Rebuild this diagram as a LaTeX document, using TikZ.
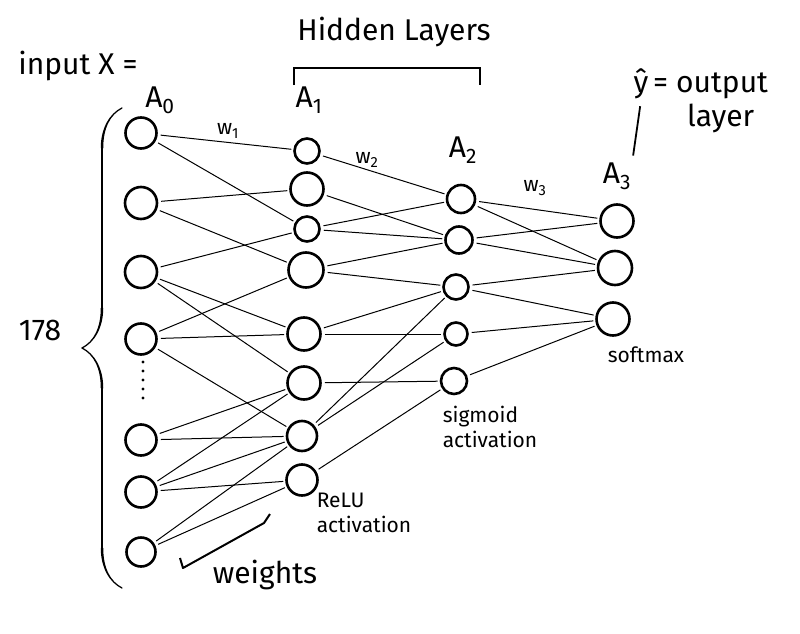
\documentclass[tikz,border=0pt]{standalone}
\usepackage{fontspec}
\setmainfont{Fira Sans}
\usetikzlibrary{decorations.pathreplacing,calligraphy}

\tikzset{
  unit/.style={circle,draw,line width=2.6pt,inner sep=0pt},
  edge/.style={line width=1pt,shorten <=3pt,shorten >=2pt},
  hand/.style={font=\fontsize{30}{32}\selectfont,inner sep=1pt},
  small/.style={font=\fontsize{21}{25}\selectfont,inner sep=1pt},
}

\begin{document}
\begin{tikzpicture}[x=1pt,y=-1pt]
\fill[white] (0,0) rectangle (800,634);
\useasboundingbox (0,0) rectangle (800,634);

% layers
\foreach \i/\y/\d in {1/133/31,2/203/32,3/272/32,4/339/31,5/440/31,6/492/31,7/552/29}
  \node[unit,minimum size=\d pt] (a0-\i) at (141,\y) {};
\foreach \i/\x/\y/\d in {1/307/151/25,2/307/189/33,3/307/229/25,4/306/270/35,
                         5/304/334/33,6/304/383/33,7/302/436/30,8/302/480/31}
  \node[unit,minimum size=\d pt] (a1-\i) at (\x,\y) {};
\foreach \i/\x/\y/\d in {1/461/199/28,2/459/240/27,3/456/287/25,4/456/334/23,5/454/381/26}
  \node[unit,minimum size=\d pt] (a2-\i) at (\x,\y) {};
\foreach \i/\x/\y/\d in {1/617/221/33,2/615/268/34,3/613/319/33}
  \node[unit,minimum size=\d pt] (a3-\i) at (\x,\y) {};

% dots between input units
\foreach \y in {362,371,380,389,398}
  \fill (143,\y) circle (1.6pt);

% weights
\foreach \s/\t in {1/1,1/3,2/2,2/4,3/3,3/5,3/6,4/4,4/5,4/7,5/6,5/7,6/6,6/7,6/8,7/7,7/8}
  \draw[edge] (a0-\s) -- (a1-\t);
\foreach \s/\t in {1/1,2/2,3/1,3/2,4/2,4/3,5/3,5/4,6/5,7/3,7/4,8/5}
  \draw[edge] (a1-\s) -- (a2-\t);
\foreach \s/\t in {1/1,1/2,2/1,2/2,3/2,3/3,4/3,5/3}
  \draw[edge] (a2-\s) -- (a3-\t);

% labels
\node[hand] (inlbl) at (78,66) {input X =};
\node[hand] (a0lbl) at (160,100) {A\textsubscript{0}};
\node[hand] (hidlbl) at (394,32) {Hidden Layers};
\node[hand] (a1lbl) at (309,100) {A\textsubscript{1}};
\node[hand] (a2lbl) at (463,150) {A\textsubscript{2}};
\node[hand] (a3lbl) at (617,176) {A\textsubscript{3}};
\node[hand] (yhat) at (641,84) {ŷ};
\node[hand,anchor=west] (outlbl) at (652,86) {= output};
\node[hand,anchor=west] (laylbl) at (686,118) {layer};
\node[small] (w1) at (228,131) {w\textsubscript{1}};
\node[small] (w2) at (367,160) {w\textsubscript{2}};
\node[small] (w3) at (535,188) {w\textsubscript{3}};
\node[small] (smax) at (646,355) {softmax};
\node[small,align=left] (sig) at (490,427) {sigmoid\\activation};
\node[small,align=left] (relu) at (364,513) {ReLU\\activation};
\node[hand] (wts) at (265,575) {weights};
\node[hand] (n178) at (40,330) {178};

\draw[line width=1.8pt,shorten <=6pt,shorten >=6pt] (a3lbl.north east) -- (yhat.south);

% brackets
\draw[line width=2pt] (294,85) -- (294,68) -- (480,68) -- (480,85);
\draw[line width=2pt,line join=round] (180,558) -- (183,568) -- (264,523) -- (270,514);
\draw[decorate,decoration={calligraphic brace,amplitude=40pt},line width=2.5pt]
  (122,588) -- (122,108);
\end{tikzpicture}
\end{document}
